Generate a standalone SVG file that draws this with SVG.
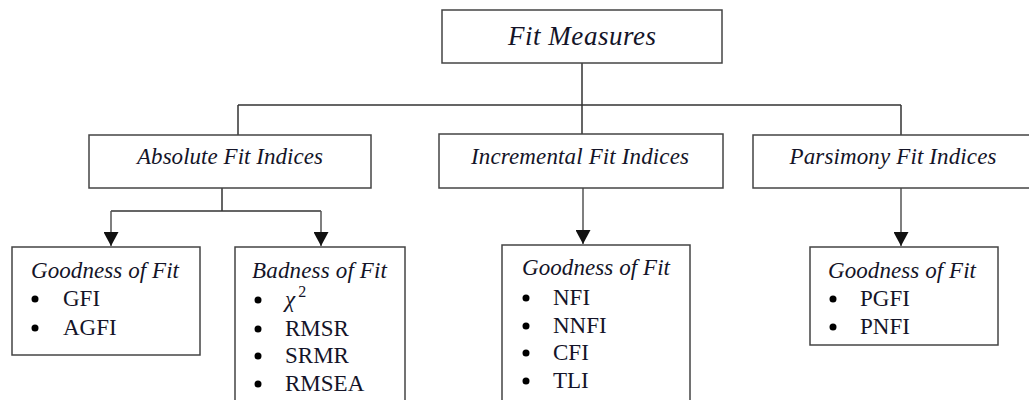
<svg xmlns="http://www.w3.org/2000/svg" width="1029" height="400" viewBox="0 0 1029 400">
<defs>
<marker id="arr" markerUnits="userSpaceOnUse" markerWidth="15" markerHeight="15" viewBox="0 0 14 14" refX="13" refY="7" orient="auto">
<path d="M0,0 L13,7 L0,14 Z" fill="#111"/>
</marker>
<style>
.box{fill:#fff;stroke:#444;stroke-width:1.5}
.ln{fill:none;stroke:#333;stroke-width:1.5}
.ar{fill:none;stroke:#555;stroke-width:1.5}
.h1{font-family:'Liberation Serif','DejaVu Serif',serif;font-style:italic;font-size:27px;fill:#141428}
.h2{font-family:'Liberation Serif','DejaVu Serif',serif;font-style:italic;font-size:23px;fill:#141428}
.it{font-family:'Liberation Serif','DejaVu Serif',serif;font-size:23px;fill:#141428}
.bl{fill:#000}
</style>
</defs>
<rect width="1029" height="400" fill="#fff"/>
<g id="connectors">
<path class="ln" d="M582,63 V105 M238,105 H901 M238,105 V135 M582,105 V134 M901,105 V135"/>
<path class="ln" d="M222,188 V211 M111,211 H321"/>
<path class="ar" d="M111,211 V246" marker-end="url(#arr)"/>
<path class="ar" d="M321,211 V246" marker-end="url(#arr)"/>
<path class="ar" d="M583,188 V244" marker-end="url(#arr)"/>
<path class="ar" d="M901,188 V246" marker-end="url(#arr)"/>
</g>
<g id="fit-measures">
<rect class="box" x="442" y="10" width="280" height="53"/>
<text class="h1" x="582" y="45" text-anchor="middle" textLength="148">Fit Measures</text>
</g>
<g id="absolute">
<rect class="box" x="89" y="135" width="282" height="53"/>
<text class="h2" x="230" y="164" text-anchor="middle" textLength="186">Absolute Fit Indices</text>
</g>
<g id="incremental">
<rect class="box" x="439" y="134" width="284" height="54"/>
<text class="h2" x="580" y="164" text-anchor="middle" textLength="218">Incremental Fit Indices</text>
</g>
<g id="parsimony">
<rect class="box" x="753" y="135" width="290" height="53"/>
<text class="h2" x="893" y="164" text-anchor="middle" textLength="207">Parsimony Fit Indices</text>
</g>
<g id="abs-goodness">
<rect class="box" x="12" y="247" width="188" height="108"/>
<text class="h2" x="31" y="278" textLength="148">Goodness of Fit</text>
<circle class="bl" cx="35" cy="299" r="3.5"/>
<text class="it" x="63" y="306">GFI</text>
<circle class="bl" cx="35" cy="328" r="3.5"/>
<text class="it" x="63" y="335">AGFI</text>
</g>
<g id="abs-badness">
<rect class="box" x="235" y="247" width="170" height="160"/>
<text class="h2" x="252" y="278" textLength="135">Badness of Fit</text>
<circle class="bl" cx="258" cy="300" r="3.5"/>
<text class="h2" x="285" y="307" font-size="25">χ<tspan font-style="normal" font-size="16" dx="3" dy="-10">2</tspan></text>
<circle class="bl" cx="258" cy="329" r="3.5"/>
<text class="it" x="285" y="336">RMSR</text>
<circle class="bl" cx="258" cy="356" r="3.5"/>
<text class="it" x="285" y="363">SRMR</text>
<circle class="bl" cx="258" cy="384" r="3.5"/>
<text class="it" x="285" y="391">RMSEA</text>
</g>
<g id="inc-goodness">
<rect class="box" x="502" y="245" width="188" height="165"/>
<text class="h2" x="522" y="275" textLength="148">Goodness of Fit</text>
<circle class="bl" cx="526" cy="298" r="3.5"/>
<text class="it" x="553" y="305">NFI</text>
<circle class="bl" cx="526" cy="326" r="3.5"/>
<text class="it" x="553" y="333">NNFI</text>
<circle class="bl" cx="526" cy="353" r="3.5"/>
<text class="it" x="553" y="360">CFI</text>
<circle class="bl" cx="526" cy="381" r="3.5"/>
<text class="it" x="553" y="388">TLI</text>
</g>
<g id="pars-goodness">
<rect class="box" x="810" y="247" width="188" height="98"/>
<text class="h2" x="828" y="278" textLength="148">Goodness of Fit</text>
<circle class="bl" cx="833" cy="299" r="3.5"/>
<text class="it" x="860" y="306">PGFI</text>
<circle class="bl" cx="833" cy="327" r="3.5"/>
<text class="it" x="860" y="334">PNFI</text>
</g>
</svg>
